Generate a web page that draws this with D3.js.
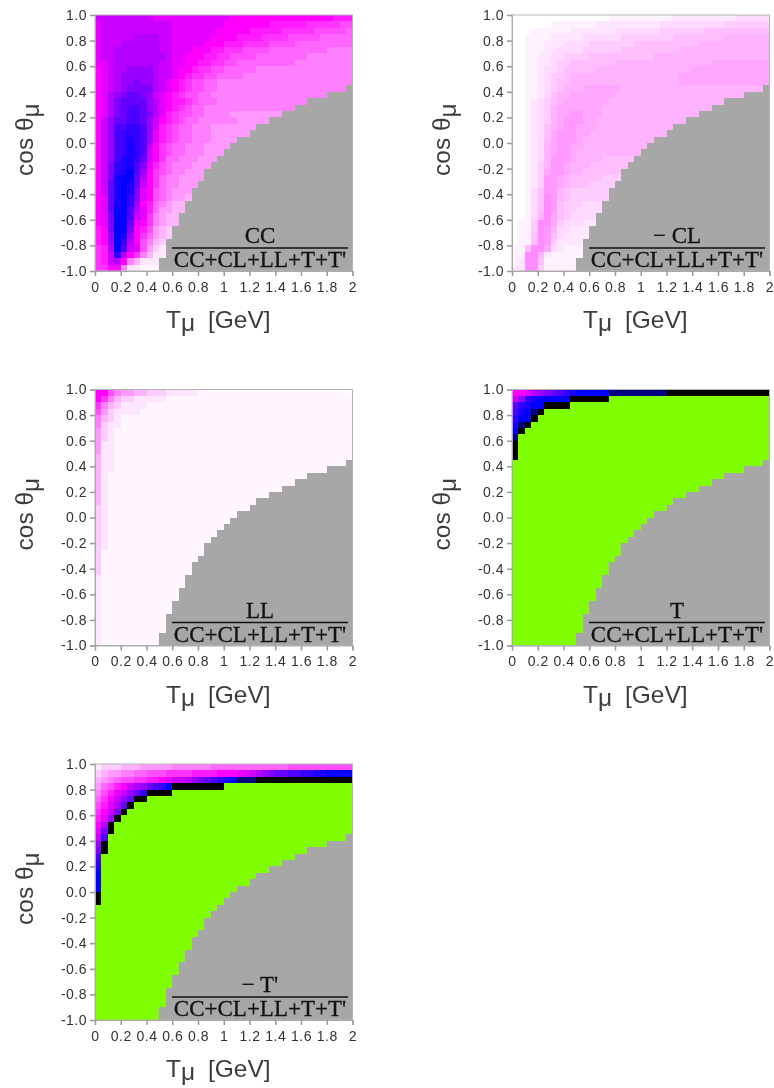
<!DOCTYPE html>
<html><head><meta charset="utf-8">
<script src="https://cdn.jsdelivr.net/npm/d3@7/dist/d3.min.js"></script>
<style>html,body{margin:0;padding:0;background:#fff}svg{display:block;filter:blur(0.6px)}</style>
</head><body><svg id="c" width="774" height="1088"></svg>
<script>
// Each string is one row of cells, top (cos=1.0) to bottom (cos=-1.0), left (T=0) to right (T=2).
// Characters are levels: . = faint, 0-9, a=10 ... k=20, l=21, m=22; G = out-of-scale (green).
// A short row continues with its last character.
const rowsCC = [
"cccccccccbbbbbbbbbbbbaaaaaaaaaaaaaaaa999","bcccccccccccbbbbbbbbaaaaaaa9999998888877","bcccccccccccbbbbbbbaaaaa9999988888777776",
"bcccccddddccbbbbbbaaaa999988887777766666","bcccddddddccbbbbbaaa99988887777666666666","bccdddddddccbbbaaa9988877776666666665555",
"bccddddddddcbbaaa9988777766666666555555555","bbcdddddddccbbaa99887766666666655555","abcddeeeedccbaa988776666655555",
"abcdeeeeedccba9887766665555","abcdeefeedcba98776655555","abcdeffffdcba9877665555",
"abdefggfecba987766555","abdfggggedba998766655555","abdfghhgedba9876655555",
"abdfghhgfdb98776655554","acegghhgeca9876655555544","acehhiihec9876655544",
"acehiiiheb9876655544","acehijiheb98766555444","acehijihda87665554444",
"acehijihca8766555444","acehjjigca8665554444","acfijjhfb97655544444",
"acfijkhea8765544443","acfjkkgda8655444433","acgjkjgca8655444333",
"acgjkjfba7654443333","abgjkifba7654433","abgjkiea96543333",
"abgkkhdb96443332","abfkkhcb85433322","abfkkgba85433222",
"9afkkfa974322222","9aekjea864322111","9aekida753211111",
"89dkhcb742111...","89cida8531111","89cda531111","88aa511......"];
// rowsCL is read in half levels (see levelUnits).
const rowsCL = [
"0000000000000001111111111222222222233333","00000011111112222222222333333333344444","0001111112222222333333344444445555555555",
"0011112222233333344444444555555556666","0011122233334444444555555555566666666","0011122333344444455555555566666666",
"0011223344445555555555666666666666","00112234455555556666666666666667777","00112334555556666666666666667777",
"0011234456666666666666666677777","0011234556666666666666666677","0011234566677777766666666",
"0011235667777777666666666","0012345677777776666666","0012346777777766666",
"0012346778877766666","0012346788877666666","0012356788777666",
"0012357888776666","0012357888766666","0012367887766666",
"0012367887666666","0012368887666655","0012468876665555",
"0012478876655555","0012488765555544","0012488765554444",
"0013588654444","0013598654444","0013598544433",
"0013598544333","0013697543333","0114997433322",
"0114986332222","0115985322222","0115984222222",
"1159973211111","1199621111","1299511111","2299411111100"];
const rowsLL = [
"aa75443322211111.......................0","a8532211111.......","85321111..........",
"7421111...","5321......","5211......",
"421.","421.","411.",
"411.","311.","311.",
"311.","31..","31..",
"31..","31..","31..",
"21..","21..","21..",
"21..","21..","21..",
"21..","2...","2...",
"2...","2...","1...",
"1...","1...","1...",
"1...","1...","1...",
"1...","1...","1...","1..."];
const rowsT = [
"aabdefghijkkkkklllllllllmmmmmmmmmmmmmmmm","ceijkkkkkmmmmmmG","gijkkmmmmG",
"hjklmG","ikkmG","jlmG",
"kmG","lG","mG",
"mG","mG","G"];
const rowsTp = [
"1222333444445555556666666666667777777777","2344556677788889999aaabbcdefgghhiijjkkkk","3456778899abccdefghijklllmmmmmmmmmmmmmmm",
"4679acdeghikmmmmmmmmG","579bcegimmmmG","68acegmmG",
"79bdgmG","8acfmG","9bemG",
"admG","bfmG","chG",
"emG","fmG","hG",
"iG","jG","kG",
"kG","kG","mG",
"mG","G"];
// Top of the grey (no data) region for each T column, in cos units.
const greyTop = [-1,-1,-1,-1,-1,-1,-1,-1,-1,-1,-0.90,-0.75,-0.65,-0.55,-0.45,-0.35,-0.30,-0.20,-0.15,-0.10,
 -0.05,0.00,0.05,0.05,0.10,0.15,0.15,0.20,0.20,0.25,0.25,0.30,0.30,0.35,0.35,0.35,0.40,0.40,0.40,0.45];
const xTickValues = [0,0.2,0.4,0.6,0.8,1,1.2,1.4,1.6,1.8,2];
const xTickLabels = ["0","0.2","0.4","0.6","0.8","1","1.2","1.4","1.6","1.8","2"];
const yTickValues = [1,0.8,0.6,0.4,0.2,0,-0.2,-0.4,-0.6,-0.8,-1];
const yTickLabels = ["1.0","0.8","0.6","0.4","0.2","0.0","-0.2","-0.4","-0.6","-0.8","-1.0"];
const numerators = ["CC","− CL","LL","T","− T'"];
const denominator = "CC+CL+LL+T+T'";
const allRows = [rowsCC,rowsCL,rowsLL,rowsT,rowsTp];
const levelUnits = [1,0.5,1,1,1];
const panelLeft = [95,512,95,512,95];
const panelTop = [15,15,389.5,389.5,764];

const W=257.5,H=256,binX=0.05,binY=0.05,nCols=40,nRows=40;
const x=d3.scaleLinear().domain([0,2]).range([0,W]);
const y=d3.scaleLinear().domain([-1,1]).range([H,0]);
const level=d3.scaleLinear().domain([0,10,20,22]).range(["#ffffff","#ff00ff","#0000ff","#000000"]).clamp(true);
const GREEN="#80ff00",GREY="#a7a7a7",SANS="'Liberation Sans',Arial,sans-serif",SERIF="'Liberation Serif','Times New Roman',serif";
function cellLevel(rows,r,c){
  const row=rows[Math.min(r,rows.length-1)];
  return row[Math.min(c,row.length-1)];
}
function cellColor(ch,unit){
  if(ch==="G")return GREEN;
  if(ch===".")return level(0.35);
  return level(parseInt(ch,36)*unit);
}
const svg=d3.select("#c");
allRows.forEach((rows,p)=>{
  const g=svg.append("g").attr("transform",`translate(${panelLeft[p]},${panelTop[p]})`);
  const cells=[];
  for(let r=0;r<nRows;r++)for(let c=0;c<nCols;c++){
    const top=1-r*binY, mid=top-binY/2, t=c*binX;
    cells.push({t,top,fill:mid<greyTop[c]?GREY:cellColor(cellLevel(rows,r,c),levelUnits[p])});
  }
  g.append("g").attr("shape-rendering","crispEdges").selectAll("rect").data(cells).join("rect")
    .attr("x",d=>x(d.t)).attr("y",d=>y(d.top))
    .attr("width",d=>x(d.t+binX)-x(d.t)+0.6).attr("height",d=>y(d.top-binY)-y(d.top)+0.6)
    .attr("fill",d=>d.fill);
  // frame
  g.append("rect").attr("width",W).attr("height",H).attr("fill","none").attr("stroke","#b5b5b5").attr("stroke-width",1);
  const ax=g.append("g").attr("transform",`translate(0,${H})`)
    .call(d3.axisBottom(x).tickValues(xTickValues).tickFormat((d,i)=>xTickLabels[i]).tickSize(5).tickPadding(6));
  const ay=g.append("g")
    .call(d3.axisLeft(y).tickValues(yTickValues).tickFormat((d,i)=>yTickLabels[i]).tickSize(5).tickPadding(3));
  [ax,ay].forEach(a=>{
    a.select(".domain").attr("stroke","#aaa");
    a.selectAll("line").attr("stroke","#999").attr("stroke-width",1.5);
    a.selectAll("text").attr("font-family",SANS).attr("font-size",14).attr("fill","#333").attr("letter-spacing",0.5);
  });
  // x title
  const xt=g.append("text").attr("x",71).attr("y",H+57).attr("font-family",SANS).attr("font-size",24.5).attr("fill","#3c3c3c");
  xt.append("tspan").text("T");
  xt.append("tspan").attr("dy",3).text("μ");
  xt.append("tspan").attr("x",113).attr("dy",-3).text("[GeV]");
  // y title
  const yt=g.append("text").attr("transform","rotate(-90)").attr("x",-H+95).attr("y",-62)
    .attr("font-family",SANS).attr("font-size",24.5).attr("fill","#3c3c3c");
  yt.append("tspan").text("cos ");
  yt.append("tspan").text("θ");
  yt.append("tspan").attr("dy",6).text("μ");
  // fraction
  const f=g.append("g").attr("font-family",SERIF).attr("font-size",23).attr("fill","#111").attr("stroke","#111").attr("stroke-width",0.3).attr("text-anchor","middle");
  f.append("text").attr("x",165).attr("y",H-28).text(numerators[p]);
  f.append("line").attr("x1",77).attr("x2",253).attr("y1",H-23).attr("y2",H-23).attr("stroke-width",1.5);
  f.append("text").attr("x",165).attr("y",H-4).text(denominator);
});
</script></body></html>
